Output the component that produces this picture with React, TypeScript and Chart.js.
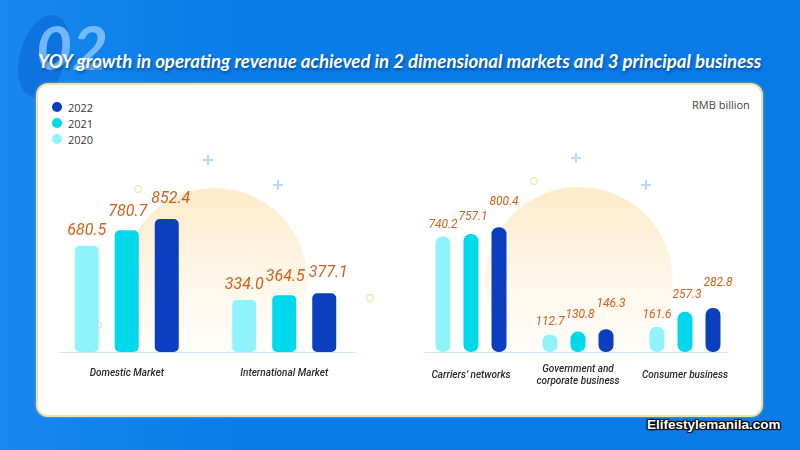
import React, { useEffect, useRef } from 'react';
import { Chart, registerables } from 'chart.js';

Chart.register(...registerables);

const years = ['2020', '2021', '2022'];
const yearColors = ['#8ff3fb', '#00d8ec', '#0b3fbf'];

const marketCategories = ['Domestic Market', 'International Market'];
const market2020 = [680.5, 334.0];
const market2021 = [780.7, 364.5];
const market2022 = [852.4, 377.1];

const businessCategories = [["Carriers’ networks"], ['Government and', 'corporate business'], ['Consumer business']];
const business2020 = [740.2, 112.7, 161.6];
const business2021 = [757.1, 130.8, 257.3];
const business2022 = [800.4, 146.3, 282.8];

const titleText = 'YOY growth in operating revenue achieved in 2 dimensional markets and 3 principal business';
const unitText = 'RMB billion';
const yMax = 1000;

const valueLabels = {
  id: 'valueLabels',
  afterDatasetsDraw(chart: any, _args: any, opts: any) {
    const ctx = chart.ctx;
    ctx.save();
    ctx.font = opts.font;
    ctx.fillStyle = opts.color;
    ctx.textAlign = 'center';
    ctx.textBaseline = 'middle';
    chart.data.datasets.forEach((ds: any, di: number) => {
      const meta = chart.getDatasetMeta(di);
      meta.data.forEach((bar: any, i: number) => {
        const v = ds.data[i] as number;
        ctx.fillText(v.toFixed(1), bar.x + (opts.dx[di] || 0), bar.y - opts.dy[di]);
      });
    });
    ctx.restore();
  },
};

const baseLine = {
  id: 'baseLine',
  beforeDatasetsDraw(chart: any, _args: any, opts: any) {
    const { ctx, chartArea } = chart;
    ctx.save();
    ctx.strokeStyle = opts.color;
    ctx.lineWidth = 1;
    ctx.beginPath();
    ctx.moveTo(chartArea.left + opts.insetLeft, chartArea.bottom + 0.5);
    ctx.lineTo(chartArea.right - opts.insetRight, chartArea.bottom + 0.5);
    ctx.stroke();
    ctx.restore();
  },
};

function BarPanel(props: {
  labels: any[];
  series: number[][];
  radius: number;
  catPct: number;
  barPct: number;
  padding: any;
  tickPadding: number;
  valueFont: string;
  dy: number[];
  dx: number[];
  inset: [number, number];
  style: React.CSSProperties;
}) {
  const ref = useRef<HTMLCanvasElement>(null);
  useEffect(() => {
    if (!ref.current) return;
    const chart = new Chart(ref.current, {
      type: 'bar',
      data: {
        labels: props.labels,
        datasets: props.series.map((d, i) => ({
          label: years[i],
          data: d,
          backgroundColor: yearColors[i],
          borderRadius: props.radius,
          borderSkipped: false,
          categoryPercentage: props.catPct,
          barPercentage: props.barPct,
        })),
      },
      options: {
        animation: false,
        responsive: false,
        maintainAspectRatio: false,
        layout: { padding: props.padding },
        plugins: {
          legend: { display: false },
          tooltip: { enabled: false },
          valueLabels: { font: props.valueFont, color: '#d2601c', dy: props.dy, dx: props.dx },
          baseLine: { color: '#cfe8f6', insetLeft: props.inset[0], insetRight: props.inset[1] },
        } as any,
        scales: {
          x: {
            grid: { display: false, drawTicks: false },
            border: { display: false },
            ticks: {
              color: '#2b2b2b',
              padding: props.tickPadding,
              crossAlign: 'center',
              font: { family: 'Roboto', style: 'italic', weight: 500, size: 10 },
            },
          },
          y: { display: false, min: 0, max: yMax },
        },
      },
      plugins: [valueLabels, baseLine],
    });
    return () => chart.destroy();
  }, []);
  return <canvas ref={ref} width={props.style.width as number} height={props.style.height as number} style={props.style} />;
}

const plus = (x: number, y: number) => (
  <div key={`p${x}`} style={{ position: 'absolute', left: x - 5, top: y - 5, width: 10, height: 10 }}>
    <div style={{ position: 'absolute', left: 4, top: 0, width: 2, height: 10, background: '#b9dcf3' }} />
    <div style={{ position: 'absolute', left: 0, top: 4, width: 10, height: 2, background: '#b9dcf3' }} />
  </div>
);
const ring = (x: number, y: number) => (
  <div key={`r${x}`} style={{ position: 'absolute', left: x - 4, top: y - 4, width: 6, height: 6, borderRadius: '50%', border: '1.5px solid #f3d98f' }} />
);

export default function App() {
  useEffect(() => {
    document.body.style.margin = '0';
  }, []);
  return (
    <div style={{ position: 'fixed', left: 0, top: 0, width: 800, height: 450, overflow: 'hidden', background: 'linear-gradient(90deg, #1888ef 0%, #0a7be7 30%, #0a7ae6 100%)', fontFamily: '"Open Sans", sans-serif' }}>
      <div style={{ position: 'absolute', left: 20, top: 14, width: 46, height: 84, borderRadius: '50% 50% 45% 55%', background: 'rgba(0,80,200,0.35)', transform: 'rotate(18deg)' }} />
      <div style={{ position: 'absolute', left: 36, top: 8, fontFamily: 'Lato, sans-serif', fontStyle: 'italic', fontWeight: 700, fontSize: 62, lineHeight: '76px', color: 'rgba(140,200,255,0.8)' }}>02</div>
      <div style={{ position: 'absolute', left: 38, top: 49, fontFamily: 'Lato, sans-serif', fontStyle: 'italic', fontWeight: 700, fontSize: 18.6, lineHeight: '24px', color: '#ffffff', whiteSpace: 'nowrap', textShadow: '1px 2px 3px rgba(0,40,110,0.6)' }}>{titleText}</div>

      <div style={{ position: 'absolute', left: 36, top: 83, width: 723, height: 330, borderRadius: 12, border: '2px solid #efe2a8', background: '#ffffff', boxShadow: '0 0 3px rgba(220,200,120,0.6)' }} />

      <div style={{ position: 'absolute', left: 123, top: 188, width: 184, height: 184, borderRadius: '50%', background: 'linear-gradient(180deg, rgba(253,233,196,0.9) 0%, rgba(254,244,226,0.6) 60%, rgba(255,255,255,0) 100%)' }} />
      <div style={{ position: 'absolute', left: 485, top: 187, width: 188, height: 188, borderRadius: '50%', background: 'linear-gradient(180deg, rgba(253,233,196,0.9) 0%, rgba(254,244,226,0.6) 60%, rgba(255,255,255,0) 100%)' }} />
      {plus(208, 160)}
      {plus(278, 185)}
      {plus(576, 158)}
      {plus(646, 185)}
      {ring(138, 189)}
      {ring(98, 325)}
      {ring(370, 298)}
      {ring(534, 181)}
      {ring(468, 325)}

      {years.slice().reverse().map((y, i) => (
        <div key={y} style={{ position: 'absolute', left: 52, top: 101 + i * 16, height: 12, display: 'flex', alignItems: 'center', fontSize: 11, color: '#333' }}>
          <span style={{ display: 'inline-block', width: 10, height: 10, borderRadius: '50%', background: yearColors[2 - i], marginRight: 6 }} />
          {y}
        </div>
      ))}
      <div style={{ position: 'absolute', left: 692, top: 97, fontSize: 11, color: '#444' }}>{unitText}</div>

      <BarPanel
        labels={marketCategories}
        series={[market2020, market2021, market2022]}
        radius={5}
        catPct={0.762}
        barPct={0.6}
        padding={{ left: 8, right: 17, top: 36, bottom: 4 }}
        tickPadding={21}
        valueFont={'italic 400 16px Roboto'}
        dy={[15, 18, 20]}
        dx={[0, 1, 4]}
        inset={[11, 8]}
        style={{ position: 'absolute', left: 40, top: 160, width: 340, height: 250 }}
      />
      <BarPanel
        labels={businessCategories}
        series={[business2020, business2021, business2022]}
        radius={7}
        catPct={0.785}
        barPct={0.536}
        padding={{ left: 7.5, right: 31.5, top: 36, bottom: 0 }}
        tickPadding={17}
        valueFont={'italic 400 12px Roboto'}
        dy={[12, 17, 25]}
        dx={[0, 2, 5]}
        inset={[7, 11]}
        style={{ position: 'absolute', left: 410, top: 160, width: 360, height: 250 }}
      />

      <div style={{ position: 'absolute', left: 647, top: 417, fontFamily: '"Liberation Sans", Arial, sans-serif', fontWeight: 700, fontSize: 13.5, color: '#ffffff', textShadow: '1px 1px 1px #000, -1px -1px 1px #000, 1px -1px 1px #000, -1px 1px 1px #000' }}>Elifestylemanila.com</div>
    </div>
  );
}
